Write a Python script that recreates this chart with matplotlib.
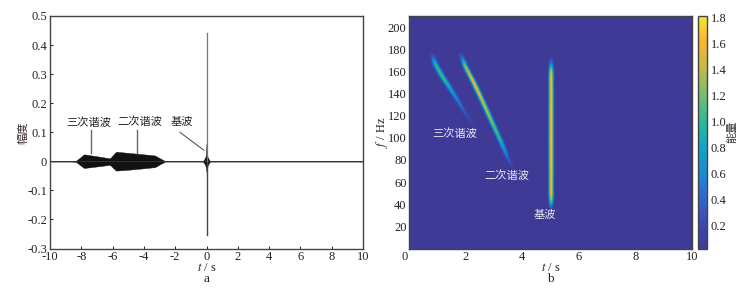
import numpy as np
import matplotlib
matplotlib.use("Agg")
import matplotlib.pyplot as plt
from matplotlib.colors import LinearSegmentedColormap
from matplotlib.transforms import ScaledTranslation

plt.rcParams['font.family'] = ['Liberation Serif', 'Noto Sans CJK SC', 'DejaVu Sans']
plt.rcParams['mathtext.fontset'] = 'stix'
plt.rcParams['axes.unicode_minus'] = False

# ---- panel a: amplitude envelope
env_t = [-10, -8.6, -8.34, -8.1, -7.83, -7.2, -6.6, -6.17, -6.0, -5.78, -5.0, -4.2, -3.29, -3.0, -2.65, -2.4, -0.22, -0.1, -0.04, -0.02, 0.0, 0.02, 0.04, 0.1, 0.22, 10]
env_up = [0.001, 0.001, 0.002, 0.012, 0.024, 0.019, 0.014, 0.010, 0.020, 0.033, 0.029, 0.025, 0.020, 0.011, 0.001, 0.001, 0.001, 0.011, 0.020, 0.045, 0.062, 0.045, 0.020, 0.011, 0.001, 0.001]
env_lo = [-0.001, -0.001, -0.002, -0.012, -0.023, -0.019, -0.015, -0.012, -0.021, -0.032, -0.029, -0.025, -0.020, -0.011, -0.001, -0.001, -0.001, -0.011, -0.020, -0.03, -0.036, -0.03, -0.020, -0.011, -0.001, -0.001]
spike_t = 0.0
spike_top = 0.44
spike_bottom = -0.255

# ---- panel b: ridges as (t, f, energy)
fund_f = [34, 40, 44, 50, 100, 158, 164, 168, 174]
fund_t = [5.03, 5.03, 5.03, 5.03, 5.03, 5.03, 5.03, 5.03, 5.03]
fund_e = [0.02, 0.6, 1.3, 1.6, 1.7, 1.6, 1.1, 0.55, 0.03]
sec_f = [72, 82, 96.6, 119, 137, 152, 165.6, 172, 178]
sec_t = [3.68, 3.5, 3.26, 2.86, 2.54, 2.26, 1.98, 1.9, 1.82]
sec_e = [0.03, 0.4, 0.95, 1.3, 1.5, 1.6, 1.3, 0.6, 0.03]
third_f = [108, 113, 123.6, 138.6, 155, 167, 172, 178]
third_t = [2.35, 2.25, 1.97, 1.62, 1.2, 0.93, 0.87, 0.8]
third_e = [0.02, 0.1, 0.3, 0.65, 1.1, 1.0, 0.55, 0.03]

xt_a = list(range(-10, 11, 2))
yt_a = [-0.3, -0.2, -0.1, 0, 0.1, 0.2, 0.3, 0.4, 0.5]
yl_a = ['-0.3', '-0.2', '-0.1', '0', '0.1', '0.2', '0.3', '0.4', '0.5']
xt_b = [0, 2, 4, 6, 8, 10]
yt_b = list(range(20, 201, 20))
cb_ticks = [0.2, 0.4, 0.6, 0.8, 1.0, 1.2, 1.4, 1.6, 1.8]

parula = LinearSegmentedColormap.from_list('parula', [
    (0.0, '#3e3a96'), (0.1, '#3d48ae'), (0.22, '#2f68cc'), (0.33, '#1a8cd8'), (0.44, '#0fa8c0'),
    (0.55, '#2fb89a'), (0.67, '#7dbd6a'), (0.78, '#c8b84a'), (0.9, '#fdb62f'), (1.0, '#f2ea30')])

W, H = 749, 288
fig = plt.figure(figsize=(W / 100, H / 100), dpi=100)
def box(x0, y0, x1, y1):
    return [x0 / W, 1 - y1 / H, (x1 - x0) / W, (y1 - y0) / H]

FS = 9
CJK = 8.1
tc = '#222222'
# ---- a
ax = fig.add_axes(box(50, 16, 363, 248.5))
ax.fill_between(env_t, env_lo, env_up, color='#111111', lw=0.3)
ax.axhline(0, color='#333333', lw=0.7)
ax.plot([spike_t, spike_t], [spike_bottom, 0], color='#444444', lw=1.0)
ax.plot([spike_t, spike_t], [0, spike_top], color='#777777', lw=0.9)
ax.set_xlim(-10, 10)
ax.set_ylim(-0.3, 0.5)
ax.set_xticks(xt_a)
ax.set_yticks(yt_a)
ax.set_yticklabels(yl_a)
ax.tick_params(direction='in', length=2.5, width=0.7, labelsize=FS, colors=tc, pad=2)
for s in ax.spines.values():
    s.set_linewidth(1.0); s.set_color('#444444')
ax.set_xlabel(r'$t$ / s', fontsize=FS, color=tc)
ax.xaxis.set_label_coords(0.5, -0.06)
ax.set_ylabel('幅度', fontsize=CJK, color='#3a2a2a')
ax.yaxis.set_label_coords(-0.07, 0.5)
ax.text(0.5, -0.13, 'a', transform=ax.transAxes, ha='center', va='center', fontsize=FS + 0.5, color=tc)
for txt, x, y in [('三次谐波', -7.5, 0.132), ('二次谐波', -4.25, 0.135), ('基波', -1.55, 0.135)]:
    ax.text(x, y, txt, ha='center', va='center', fontsize=CJK, color=tc)
ax.plot([-7.4, -7.4], [0.03, 0.108], color='#666666', lw=1.0)
ax.plot([-4.46, -4.46], [0.03, 0.108], color='#666666', lw=1.0)
ax.plot([-1.7, -0.16], [0.1, 0.038], color='#444444', lw=0.7)

# ---- b
bx = fig.add_axes(box(409.3, 16, 691.7, 248.5))
tt = np.linspace(0, 10, 900)
ff = np.linspace(0, 210, 600)
Z = np.zeros((ff.size, tt.size))
kern = np.hanning(25)
kern = kern / kern.sum()
for fs, ts, es, w in [(fund_f, fund_t, fund_e, 0.085), (sec_f, sec_t, sec_e, 0.095), (third_f, third_t, third_e, 0.105)]:
    c = np.interp(ff, fs, ts)
    pad = np.pad(c, 24, mode='edge')
    c = np.convolve(pad, kern, mode='same')[24:-24]
    e = np.convolve(np.interp(ff, fs, es, left=0, right=0), kern, mode='same')
    Z += e[:, None] * np.exp(-((tt[None, :] - c[:, None]) / w) ** 2)
im = bx.pcolormesh(tt, ff, Z + 0.02, cmap=parula, vmin=0.02, vmax=1.81, shading='gouraud', rasterized=True)
bx.set_xlim(0, 10)
bx.set_ylim(0, 210)
bx.set_xticks(xt_b)
bx.set_yticks(yt_b)
bx.tick_params(direction='in', length=0, labelsize=FS, colors=tc, pad=2)
lab0 = bx.get_xticklabels()[0]
lab0.set_transform(lab0.get_transform() + ScaledTranslation(-5 / 100, 0, fig.dpi_scale_trans))
for s in bx.spines.values():
    s.set_linewidth(1.0); s.set_color('#444444')
bx.set_xlabel(r'$t$ / s', fontsize=FS, color=tc)
bx.xaxis.set_label_coords(0.5, -0.06)
bx.set_ylabel(r'$f$ / Hz', fontsize=FS, color=tc)
bx.yaxis.set_label_coords(-0.07, 0.5)
bx.text(0.5, -0.13, 'b', transform=bx.transAxes, ha='center', va='center', fontsize=FS + 0.5, color=tc)
for txt, x, y in [('三次谐波', 1.62, 104), ('二次谐波', 3.45, 66), ('基波', 4.8, 30)]:
    bx.text(x, y, txt, ha='center', va='center', fontsize=CJK, color='#e8e8f4')

cax = fig.add_axes(box(697.5, 16, 706.7, 248.5))
cax.set_facecolor('#3e3a96')
cb = fig.colorbar(im, cax=cax, ticks=cb_ticks)
cb.ax.set_yticklabels([f'{v:.1f}' for v in cb_ticks])
cb.ax.tick_params(length=0, labelsize=FS, colors=tc, pad=3)
cb.outline.set_linewidth(1.0)
cb.outline.set_edgecolor('#444444')
fig.text(732 / W, 1 - 132 / H, '能量', rotation=90, ha='center', va='center', fontsize=CJK, color='#333333')

fig.savefig('out.png', dpi=100, facecolor='white')
